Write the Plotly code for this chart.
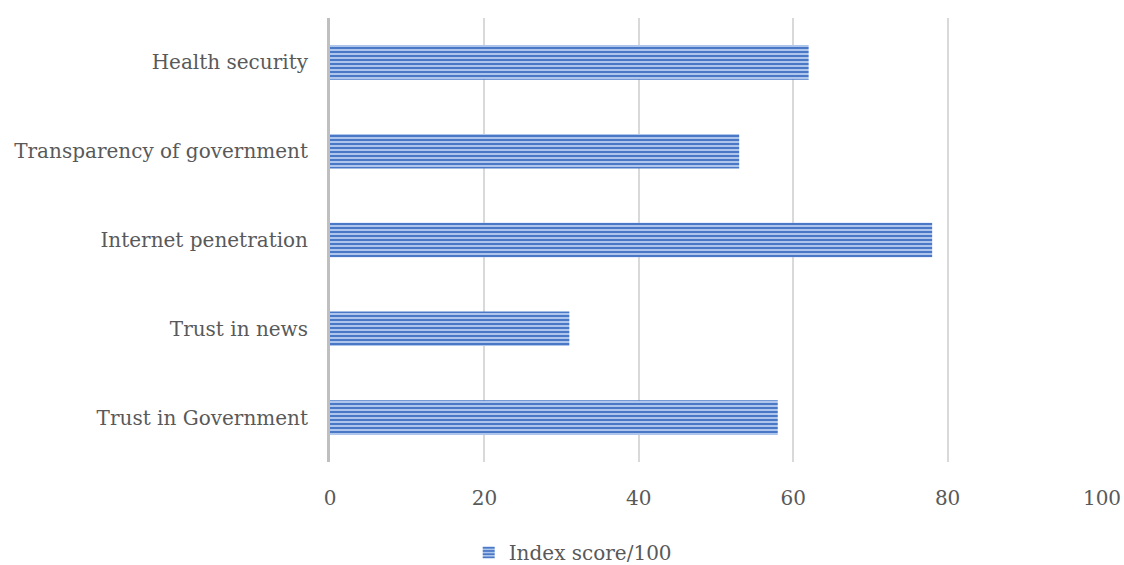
import plotly.graph_objects as go

categories = ["Trust in Government", "Trust in news", "Internet penetration",
              "Transparency of government", "Health security"]
scores = [58, 31, 78, 53, 62]
series_name = "Index score/100"
x_ticks = [0, 20, 40, 60, 80, 100]

font_family = "DejaVu Serif"
text_color = "#595959"
font_size = 20

fig = go.Figure()
fig.add_trace(go.Bar(
    y=categories,
    x=scores,
    orientation="h",
    name=series_name,
    width=0.39,
    marker=dict(
        color="#9DB9E6",
        line=dict(width=0),
        pattern=dict(shape="-", size=4, solidity=0.5,
                     fgcolor="#4A78C6", bgcolor="#AEC6EC", fillmode="replace"),
    ),
    showlegend=True,
))

fig.update_layout(
    width=1124,
    height=565,
    margin=dict(l=330, r=22, t=18, b=103, autoexpand=False),
    paper_bgcolor="white",
    plot_bgcolor="white",
    font=dict(family=font_family, size=font_size, color=text_color),
    showlegend=True,
    legend=dict(orientation="h", xref="container", x=0.417, xanchor="left",
                yref="container", y=0.022, yanchor="middle",
                font=dict(family=font_family, size=font_size, color=text_color),
                itemwidth=30),
    bargap=0.6,
)
fig.update_xaxes(
    range=[0, 100],
    tickvals=x_ticks,
    showgrid=True,
    gridcolor="#D9D9D9",
    gridwidth=2,
    zeroline=False,
    showline=False,
    ticks="",
    automargin=False,
    ticklabelstandoff=22,
    tickfont=dict(family=font_family, size=font_size, color=text_color),
)
fig.update_yaxes(
    categoryorder="array",
    categoryarray=categories,
    showgrid=False,
    showline=True,
    linecolor="#BFBFBF",
    linewidth=3,
    ticks="",
    automargin=False,
    ticklabelstandoff=15,
    tickfont=dict(family=font_family, size=font_size, color=text_color),
)

fig.write_html("out.html")
